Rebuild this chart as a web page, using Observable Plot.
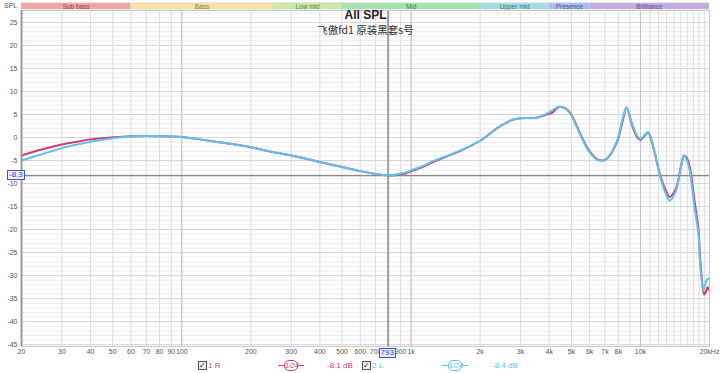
<!DOCTYPE html>
<html><head><meta charset="utf-8">
<script src="https://cdn.jsdelivr.net/npm/d3@7"></script>
<script src="https://cdn.jsdelivr.net/npm/@observablehq/plot@0.6"></script>
<style>
body{margin:0;background:#fff;font-family:"Liberation Sans",Arial,sans-serif;}
#wrap{position:relative;width:720px;height:373px;overflow:hidden;}
#legend{position:absolute;left:0;top:357px;width:720px;height:16px;}
.lg{position:absolute;font-size:8px;line-height:10px;top:4px;white-space:nowrap;}
.cb{position:absolute;top:4px;width:7px;height:7px;border:1px solid #555;background:#eee;font-size:8px;line-height:7px;text-align:center;color:#222;}
.pill{position:absolute;top:3px;height:11px;}
.pill .ln{position:absolute;left:0;right:0;top:5px;height:1px;}
.pill .bx{position:absolute;left:6px;right:6px;top:0;height:9px;border:1px solid;border-radius:5px;background:#fff;font-size:7px;line-height:9px;text-align:center;font-style:italic;}
.box{position:absolute;font-size:8px;line-height:8px;padding:0 1px;border:1px solid #4050d0;color:#3040c0;background:#eef;}
</style></head><body>
<div id="wrap"><div id="chart"></div><div id="legend"></div></div>
<script>
const freqs  = [20,25,30,35,40,50,60,70,80,100,120,140,170,200,240,300,400,500,600,700,793,850,900,950,1000,1100,1260,1450,1640,2000,2400,2750,3000,3500,3900,4100,4400,4700,4950,5500,6000,6600,7100,7900,8400,8700,9200,9700,10000,10400,10800,11400,12200,12900,13400,14300,15000,15500,16000,16400,17200,17900,18200,18800,19000,19300,19600,20000];
const levelR = [-3.9,-2.5,-1.5,-0.9,-0.4,0.05,0.3,0.35,0.3,0.1,-0.4,-0.9,-1.5,-2.1,-3.0,-3.9,-5.3,-6.4,-7.3,-7.9,-8.2,-8.2,-7.9,-7.8,-7.3,-6.6,-5.2,-4.0,-2.9,-0.7,2.2,3.8,4.2,4.3,5.0,5.3,6.6,6.4,5.3,0.5,-3.0,-4.9,-4.7,-1.0,4.0,6.5,2.6,0.0,-0.5,0.3,1.1,-2.4,-8.2,-11.5,-12.9,-11.0,-6.3,-3.9,-4.6,-6.3,-13.7,-20,-26,-33.5,-34.1,-33.5,-32.5,-33.3];
const levelL = [-5.0,-3.5,-2.3,-1.5,-0.9,-0.15,0.2,0.35,0.3,0.1,-0.4,-0.9,-1.5,-2.1,-3.0,-3.9,-5.3,-6.4,-7.3,-7.9,-8.2,-8.1,-7.8,-7.6,-7.1,-6.4,-5.0,-3.9,-2.8,-0.7,2.2,3.8,4.2,4.3,5.2,5.8,6.7,6.3,5.1,0.3,-3.2,-5.0,-4.6,-0.7,4.5,6.6,3.0,0.3,-0.3,0.5,1.2,-2.1,-8.6,-12.2,-13.7,-11.5,-6.5,-3.9,-5.2,-7.2,-15.2,-21,-27,-33.3,-32.5,-31.3,-30.7,-30.7];

const bandNames = ["Sub bass","Bass","Low mid","Mid","Upper mid","Presence","Brilliance"];
const bandEdges = [20,60,250,500,2000,4000,6000,20000];
const bandFill  = ["#f4a4a4","#f8e3a0","#cde8a2","#a6e2ae","#a8dce2","#a9bde8","#c3abdb"];
const bandInk   = ["#a33a3a","#8a7428","#4f8a34","#2f7f42","#2f7a86","#3f55a6","#6b4696"];

const yTicks = [-45,-40,-35,-30,-25,-20,-15,-10,-5,0,5,10,15,20,25];
const yMinor = d3.range(-45,28,1);
const xTickValues = [20,30,40,50,60,70,80,90,100,200,300,400,500,600,700,900,1000,2000,3000,4000,5000,6000,7000,8000,10000,20000];
const xTickLabels = ["20","30","40","50","60","70","80","90","100","200","300","400","500","600","700","900","1k","2k","3k","4k","5k","6k","7k","8k","10k","20kHz"];
const xGrid = [20,30,40,50,60,70,80,90,100,200,300,400,500,600,700,800,900,1000,2000,3000,4000,5000,6000,7000,8000,9000,10000,11000,12000,13000,14000,15000,16000,17000,18000,19000,20000];
const xDecades = [100,1000,10000];

const titleText = "All SPL";
const subtitleText = "飞傲fd1 原装黑套s号";
const cursorFreq = 793;
const cursorLevel = -8.3;
const yDomain = [-45.4, 27.6];
const bandTop = 29.15, bandBottom = 27.8;

const curveR = freqs.map((f,i)=>({f, v: levelR[i]}));
const curveL = freqs.map((f,i)=>({f, v: levelL[i]}));
const bands = bandNames.map((n,i)=>({name:n, x1:bandEdges[i], x2:bandEdges[i+1], xm:Math.sqrt(bandEdges[i]*bandEdges[i+1]), fill:bandFill[i], ink:bandInk[i]}));
const xTicks = xTickValues.map((v,i)=>({v, label:xTickLabels[i]}));

const chart = Plot.plot({
  width: 720, height: 357,
  marginLeft: 21, marginRight: 11, marginTop: 10, marginBottom: 11,
  style: {fontFamily: "Liberation Sans, Arial, sans-serif", background: "#fff", overflow: "visible"},
  x: {type: "log", domain: [20, 20000], axis: null},
  y: {domain: yDomain, axis: null},
  marks: [
    Plot.ruleY(yMinor, {stroke: "#ececec", strokeWidth: 1}),
    Plot.ruleY(yTicks, {stroke: "#d6d6d6", strokeWidth: 1}),
    Plot.ruleX(xGrid, {stroke: "#dcdcdc", strokeWidth: 1}),
    Plot.ruleX(xDecades, {stroke: "#c2c2c2", strokeWidth: 1}),
    Plot.rect(bands, {x1: "x1", x2: "x2", y1: bandBottom, y2: bandTop, fill: "fill", stroke: "#d0d0d0", strokeWidth: 0.5}),
    Plot.text(bands, {x: "xm", y: (bandTop+bandBottom)/2, text: "name", fill: "ink", fontSize: 6.5}),
    Plot.ruleX([cursorFreq], {stroke: "#555", strokeWidth: 1}),
    Plot.ruleY([cursorLevel], {stroke: "#666", strokeWidth: 1}),
    Plot.line(curveR, {x: "f", y: "v", stroke: "#d23c6e", strokeWidth: 2, curve: "catmull-rom"}),
    Plot.line(curveL, {x: "f", y: "v", stroke: "#5cc3ea", strokeWidth: 2, curve: "catmull-rom"}),
    Plot.text(yTicks, {y: d => d, text: d => String(d), frameAnchor: "left", textAnchor: "end", dx: -4, fontSize: 7, fill: "#555"}),
    Plot.text(xTicks, {x: "v", text: "label", frameAnchor: "bottom", lineAnchor: "top", dy: 3, fontSize: 7, fill: "#555"}),
    Plot.frame({stroke: "#c8c8c8"}),
    Plot.ruleX([20], {stroke: "#9a9a9a", strokeWidth: 2}),
    Plot.text([titleText], {frameAnchor: "top", lineAnchor: "top", dy: 0, fontSize: 12, fontWeight: "bold", fill: "#222"}),
    Plot.text([subtitleText], {frameAnchor: "top", lineAnchor: "top", dy: 16, fontSize: 10.5, fill: "#333", fontFamily: "Noto Sans CJK SC, sans-serif"})
  ]
});
document.getElementById("chart").appendChild(chart);

const sx = chart.scale("x"), sy = chart.scale("y");
const wrap = document.getElementById("wrap");
function addDiv(cls, html, style){ const d=document.createElement("div"); d.className=cls; d.innerHTML=html; Object.assign(d.style, style); wrap.appendChild(d); return d; }
addDiv("lg", "SPL", {left:"4px", top:"1px", fontSize:"7px", color:"#555"});
const cy = sy.apply(cursorLevel);
addDiv("box", String(cursorLevel), {left:"7px", top:(cy-5)+"px"});
const cx = sx.apply(cursorFreq);
addDiv("box", String(cursorFreq), {left:(cx-9)+"px", top:"348px"});

const legend = document.getElementById("legend");
const legendItems = [
  {x:198, name:"1 R", color:"#d23c6e", pill:278, db:"-8.1 dB", dbx:327},
  {x:362, name:"2 L", color:"#5cc3ea", pill:442, db:"-8.4 dB", dbx:492}
];
legendItems.forEach(it=>{
  const cb=document.createElement("div"); cb.className="cb"; cb.textContent="✓"; cb.style.left=it.x+"px"; legend.appendChild(cb);
  const nm=document.createElement("div"); nm.className="lg"; nm.textContent=it.name; nm.style.left=(it.x+10)+"px"; nm.style.color=it.color; legend.appendChild(nm);
  const p=document.createElement("div"); p.className="pill"; p.style.left=it.pill+"px"; p.style.width="26px";
  p.innerHTML=`<div class="ln" style="background:${it.color}"></div><div class="bx" style="border-color:${it.color};color:${it.color}">1/24</div>`;
  legend.appendChild(p);
  const db=document.createElement("div"); db.className="lg"; db.textContent=it.db; db.style.left=it.dbx+"px"; db.style.color=it.color; legend.appendChild(db);
});
</script>
</body></html>
